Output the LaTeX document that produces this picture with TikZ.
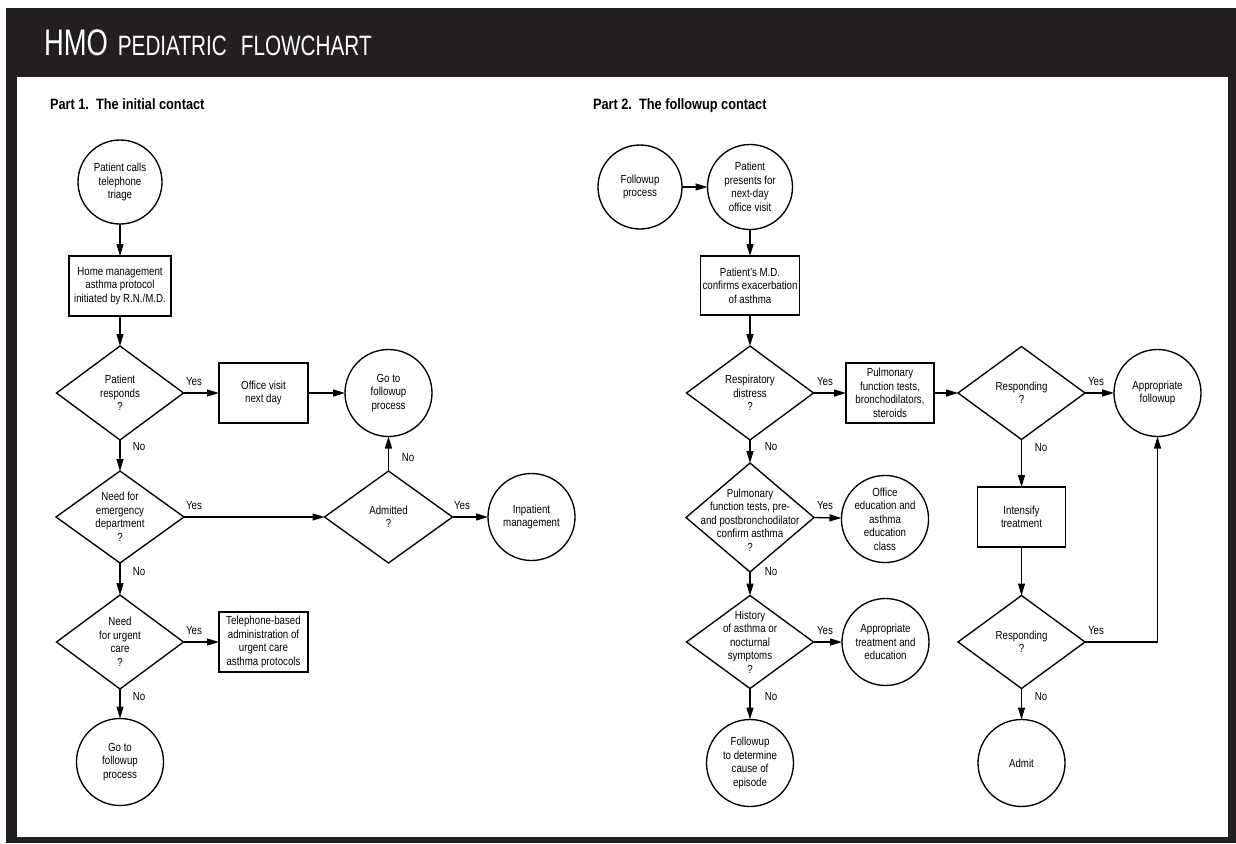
\documentclass[tikz,border=0pt]{standalone}
\usepackage{fontspec}
\setmainfont{Liberation Sans}[FakeStretch=0.83]
\newfontfamily\titlefont{Liberation Sans}[FakeStretch=0.74]
\newfontfamily\partfont{Liberation Sans}[FakeStretch=0.85]
\usetikzlibrary{shapes.geometric,arrows.meta}
\definecolor{framedark}{HTML}{231F20}
\newcommand\nodefont{\fontsize{11.7}{13.5}\selectfont}
\begin{document}
\begin{tikzpicture}[x=1pt,y=-1pt,
  every node/.style={inner sep=0pt, outer sep=0pt},
  shapeline/.style={draw=black, line width=1.35pt},
  circ/.style={circle, shapeline, minimum size=#1, align=center, font=\nodefont},
  box/.style 2 args={rectangle, shapeline, minimum width=#1, minimum height=#2, align=center, font=\nodefont},
  dia/.style 2 args={diamond, shapeline, minimum width=#1, minimum height=#2},
  txt/.style={align=center, font=\nodefont},
  lbl/.style={font=\nodefont},
  flow/.style={line width=1.35pt, -{Triangle[length=12pt,width=7pt]}}
]
\useasboundingbox (0,0) rectangle (1236,843);
% page frame: dark band with the white drawing area inside
\fill[white] (0,0) rectangle (1236,843);
\fill[framedark] (6,8) rectangle (1236,843);
\fill[white] (17,77) rectangle (1228,837);

% heading
\node[anchor=base west, text=white] (title) at (44,56)
  {\titlefont\fontsize{37}{40}\selectfont HMO\hspace{10pt}\fontsize{28}{30}\selectfont PEDIATRIC\hspace{14pt}FLOWCHART};
\node[anchor=base west] (part1) at (50,109)
  {\partfont\bfseries\fontsize{15}{17}\selectfont Part 1.\ \ The initial contact};
\node[anchor=base west] (part2) at (593,109)
  {\partfont\bfseries\fontsize{15}{17}\selectfont Part 2.\ \ The followup contact};

% ---------------- Part 1 ----------------
\node[circ=84] (c1) at (120,182) {Patient calls\\telephone\\triage};
\node[box={102}{60}] (b1) at (120,286) {Home management\\asthma protocol\\initiated by R.N./M.D.};
\node[dia={127}{94}] (d1) at (120,393) {};
\node[txt] (d1t) at (d1) {Patient\\responds\\?};
\node[box={89}{60}] (b2) at (263.5,393) {Office visit\\next day};
\node[circ=87] (c2) at (388.5,393) {Go to\\followup\\process};
\node[dia={128}{92}] (d2) at (120,517) {};
\node[txt] (d2t) at (d2) {Need for\\emergency\\department\\?};
\node[dia={128}{92}] (d3) at (388.5,517) {};
\node[txt] (d3t) at (d3) {Admitted\\?};
\node[circ=87] (c3) at (531.5,517) {Inpatient\\management};
\node[dia={127}{94}] (d4) at (120,642) {};
\node[txt] (d4t) at (d4) {Need\\for urgent\\care\\?};
\node[box={89}{60}] (b3) at (263.5,642) {Telephone-based\\administration of\\urgent care\\asthma protocols};
\node[circ=87] (c4) at (120,762) {Go to\\followup\\process};

\draw[flow] (c1) -- (b1);
\draw[flow] (b1) -- (d1.north);
\draw[flow] (d1.east) -- (b2);
\draw[flow] (b2) -- (c2);
\draw[flow] (d1.south) -- (d2.north);
\draw[flow] (d2.east) -- (d3.west);
\draw[flow] (d3.north) -- (c2);
\draw[flow] (d3.east) -- (c3);
\draw[flow] (d2.south) -- (d4.north);
\draw[flow] (d4.east) -- (b3);
\draw[flow] (d4.south) -- (c4);

\node[lbl] (y1) at (194,382) {Yes};
\node[lbl] (n1) at (139,447) {No};
\node[lbl] (y2) at (194,506) {Yes};
\node[lbl] (n2) at (408,458) {No};
\node[lbl] (y3) at (462,506) {Yes};
\node[lbl] (n3) at (139,572) {No};
\node[lbl] (y4) at (194,631) {Yes};
\node[lbl] (n4) at (139,697) {No};

% ---------------- Part 2 ----------------
\node[circ=84] (e1) at (640,187) {Followup\\process};
\node[circ=85] (e2) at (750,187) {Patient\\presents for\\next-day\\office visit};
\node[box={99}{59}] (f1) at (750,285.5) {Patient's M.D.\\confirms exacerbation\\of asthma};
\node[dia={127}{94}] (g1) at (750,393) {};
\node[txt] (g1t) at (g1) {Respiratory\\distress\\?};
\node[box={88}{60}] (f2) at (890,393) {Pulmonary\\function tests,\\bronchodilators,\\steroids};
\node[dia={127}{93}] (g2) at (1021.5,393) {};
\node[txt] (g2t) at (g2) {Responding\\?};
\node[circ=87] (e3) at (1157.5,393) {Appropriate\\followup};
\node[box={88}{60}] (f3) at (1021.5,517) {Intensify\\treatment};
\node[dia={127}{93}] (g3) at (1021.5,642) {};
\node[txt] (g3t) at (g3) {Responding\\?};
\node[circ=87] (e4) at (1021.5,763) {Admit};
\node[dia={128}{109}] (g4) at (750,517.5) {};
\node[txt] (g4t) at (750,520) {Pulmonary\\function tests, pre-\\and postbronchodilator\\confirm asthma\\?};
\node[circ=86] (e5) at (885,519) {Office\\education and\\asthma\\education\\class};
\node[dia={127}{93}] (g5) at (750,642) {};
\node[txt] (g5t) at (g5) {History\\of asthma or\\nocturnal\\symptoms\\?};
\node[circ=87] (e6) at (885.5,642) {Appropriate\\treatment and\\education};
\node[circ=87] (e7) at (750,763) {Followup\\to determine\\cause of\\episode};

\draw[flow] (e1) -- (e2);
\draw[flow] (e2) -- (f1);
\draw[flow] (f1) -- (g1.north);
\draw[flow] (g1.east) -- (f2);
\draw[flow] (f2) -- (g2.west);
\draw[flow] (g2.east) -- (e3);
\draw[flow] (g2.south) -- (f3);
\draw[flow] (f3) -- (g3.north);
\draw[flow] (g3.south) -- (e4);
\draw[flow] (g3.east) -| (e3.south);
\draw[flow] (g1.south) -- (g4.north);
\draw[flow] (g4.east) -- (e5);
\draw[flow] (g4.south) -- (g5.north);
\draw[flow] (g5.east) -- (e6);
\draw[flow] (g5.south) -- (e7);

\node[lbl] (y5) at (825,382) {Yes};
\node[lbl] (n5) at (771,447) {No};
\node[lbl] (y6) at (825,506) {Yes};
\node[lbl] (n6) at (771,572) {No};
\node[lbl] (y7) at (825,631) {Yes};
\node[lbl] (n7) at (771,697) {No};
\node[lbl] (y8) at (1096,382) {Yes};
\node[lbl] (n8) at (1041,448) {No};
\node[lbl] (y9) at (1096,631) {Yes};
\node[lbl] (n9) at (1041,697) {No};
\end{tikzpicture}
\end{document}
